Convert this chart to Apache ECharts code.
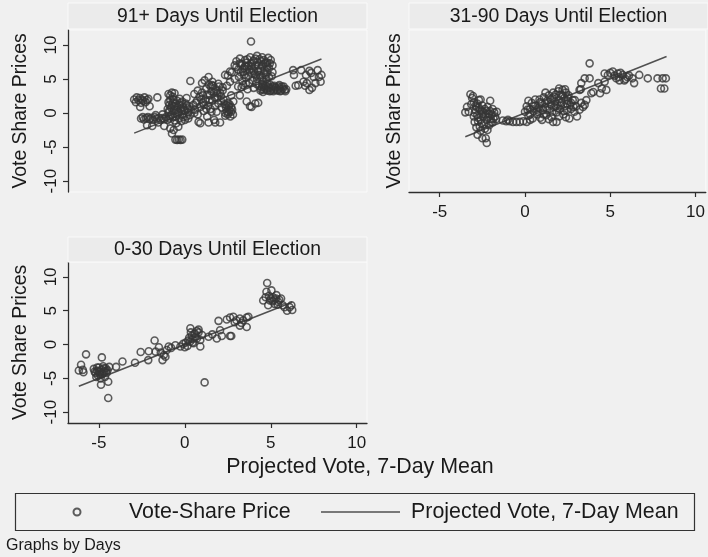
<!DOCTYPE html>
<html>
<head>
<meta charset="utf-8">
<script src="https://cdn.jsdelivr.net/npm/echarts@6/dist/echarts.min.js"></script>
<style>
html,body{margin:0;padding:0;background:#f0f0f0}
#chart{width:708px;height:557px}
</style>
</head>
<body>
<div id="chart"></div>
<script>
// Panel headings (one per "Days" group)
const panelTitles = ['91+ Days Until Election', '31-90 Days Until Election', '0-30 Days Until Election'];
const xTicks = [-5, 0, 5, 10];
const yTicks = [-10, -5, 0, 5, 10];
const xTitle = 'Projected Vote, 7-Day Mean';
const yTitle = 'Vote Share Prices';
const scatterName = 'Vote-Share Price';
const lineName = 'Projected Vote, 7-Day Mean';
const noteText = 'Graphs by Days';

// [projected vote, vote-share price] — 91+ days
const points91 = [
  [-2.95,2.0],[-2.85,1.6],[-2.8,2.3],[-2.7,1.9],[-2.62,2.2],[-2.55,1.5],[-2.5,2.0],[-2.42,1.8],[-2.35,2.3],[-2.28,1.6],[-2.2,1.9],[-2.12,2.1],[-2.6,0.9],[-2.05,1.0],[-1.6,2.3],
  [-2.55,-0.8],[-2.45,-0.6],[-2.38,-0.95],[-2.25,-0.75],[-2.15,-0.6],[-2.05,-0.9],[-1.95,-0.7],[-1.85,-1.0],[-1.75,-0.6],[-1.65,-0.85],[-1.5,-0.7],[-1.4,-1.0],[-1.3,-0.75],[-1.2,-0.9],[-1.1,-0.6],[-1.0,-1.0],[-0.9,-0.8],[-2.2,-1.8],[-1.9,-1.9],[-1.2,-1.9],[-0.85,-2.25],[-0.75,-3.0],[-0.65,-2.5],[-1.55,-1.4],[-1.3,-0.2],[-1.7,-0.3],
  [-0.55,-3.9],[-0.45,-3.95],[-0.35,-3.9],[-0.25,-3.95],[-0.15,-3.9],
  [-0.95,2.8],[-0.85,2.6],[-0.75,3.0],[-0.7,2.4],[-0.6,2.9],[-0.9,1.2],[-0.8,0.8],[-0.7,1.5],[-0.6,1.0],[-0.5,0.5],[-0.45,1.8],[-0.4,0.2],[-0.3,1.2],[-0.25,0.6],[-0.15,-0.2],[-0.1,0.9],[0.0,0.3],[0.05,1.4],[0.1,-0.5],[0.15,0.7],[0.2,0.1],[0.25,1.0],[-0.55,-0.5],[-0.35,-0.8],[-0.2,-1.2],[0.0,-1.0],[-0.5,-1.5],[-0.38,-2.0],[-0.8,-0.3],[0.3,-0.3],[0.35,0.5],[-0.3,2.1],[-0.65,0.3],[-1.0,0.6],[-0.95,0.1],[0.32,4.7],[-0.85,1.9],[-0.15,1.7],[0.1,2.2],[-0.6,-1.1],
  [-0.9,0.4],[-0.75,1.1],[-0.65,2.0],[-0.55,1.4],[-0.45,0.9],[-0.35,0.0],[-0.25,1.5],[-0.05,0.5],[0.1,1.1],[-0.2,0.3],[-0.7,-0.6],[-0.45,-0.2],[-0.95,1.6],[-0.85,-0.5],[0.2,-0.8],[-0.1,-0.6],
  [0.5,1.2],[0.6,0.5],[0.7,1.8],[0.75,-0.2],[0.85,2.4],[0.9,0.9],[1.0,3.0],[1.05,1.5],[1.1,0.3],[1.2,2.0],[1.25,3.6],[1.3,-0.5],[1.35,1.1],[1.4,4.2],[1.45,2.6],[1.5,0.6],[1.55,3.2],[1.6,1.8],[1.65,4.0],[1.7,-1.0],[1.75,2.3],[1.8,3.5],[1.85,0.2],[1.9,2.9],[1.95,1.4],[2.0,3.9],[2.05,-1.4],[2.1,2.5],[2.15,0.8],[2.2,3.3],[1.0,4.4],[1.38,5.3],[1.57,4.1],[0.9,-1.5],[1.38,-1.4],[1.77,-1.4],[0.8,-1.3],[0.55,2.8],[1.15,4.8],[1.6,4.6],[2.2,3.8],[2.25,2.0],[1.3,2.7],[1.7,3.0],[1.9,2.2],[2.05,3.0],
  [0.55,0.0],[0.65,1.5],[0.95,2.0],[1.1,1.2],[1.25,0.6],[1.45,1.9],[1.55,0.2],[1.75,1.0],[1.85,3.2],[2.1,1.8],[1.05,2.6],[0.75,3.3],[1.5,3.9],[1.95,4.3],
  [2.3,1.3],[2.4,0.8],[2.45,0.2],[2.5,-0.2],[2.55,1.0],[2.6,0.4],[2.65,-0.5],[2.7,0.9],[2.35,0.0],[2.75,0.5],[2.8,-0.2],[2.5,1.5],[2.4,1.2],[2.55,0.1],[2.7,0.2],[2.35,-0.4],[2.6,1.3],
  [2.34,5.6],[2.63,4.6],[2.7,2.6],[3.2,2.6],[2.63,6.1],[2.73,6.0],[2.5,5.5],[2.45,4.0],[2.9,5.0],[3.1,3.9],[3.4,4.1],[2.82,1.7],[3.6,1.7],[3.88,0.9],[4.27,1.5],[3.79,1.0],[4.1,1.4],
  [2.9,7.0],[3.0,7.6],[3.1,6.4],[3.2,8.0],[3.3,7.2],[3.4,6.0],[3.5,7.8],[3.6,6.8],[3.7,5.5],[3.8,8.2],[3.9,7.4],[4.0,6.2],[4.1,8.0],[4.2,5.0],[4.3,7.0],[4.4,6.5],[4.5,8.2],[4.6,5.8],[4.7,7.4],[4.8,6.8],[4.9,5.3],[5.0,7.8],[5.1,6.0],[3.15,5.3],[3.35,4.7],[3.55,5.2],[3.75,4.4],[3.95,4.8],[4.15,4.3],[4.35,5.6],[4.55,4.6],[4.75,5.0],[4.95,4.2],[3.45,6.6],[3.85,6.9],[4.25,6.2],[4.65,6.3],[5.05,5.4],[3.65,7.9],[4.45,7.6],[4.85,8.1],[4.2,8.4],[3.85,10.5],[3.3,3.8],[4.0,3.7],[4.6,3.9],[3.65,3.5],[4.9,6.6],[5.1,7.0],[4.55,7.1],[4.05,5.7],[3.75,6.3],[4.7,5.6],[4.3,4.0],[3.55,4.3],
  [3.0,6.8],[3.2,7.3],[3.35,6.4],[3.5,6.9],[3.6,7.4],[3.7,7.0],[3.9,6.5],[4.0,7.7],[4.1,6.9],[4.2,7.5],[4.35,7.9],[4.5,6.9],[4.6,7.8],[4.8,7.4],[4.95,7.3],[4.4,5.3],[4.15,5.5],[3.9,5.9],[4.5,5.2],[4.8,6.0],[3.45,5.6],[3.25,6.0],
  [4.4,3.3],[4.5,3.8],[4.6,3.4],[4.7,4.0],[4.8,3.3],[4.9,3.7],[5.0,3.3],[5.1,3.9],[5.2,3.4],[5.3,3.7],[5.4,3.3],[5.5,3.6],[5.6,3.3],[5.7,3.6],[5.8,3.4],[5.9,3.5],[5.2,4.0],[5.5,4.1],[5.75,3.9],
  [4.45,3.5],[4.55,3.1],[4.65,3.7],[4.75,3.5],[4.85,3.9],[4.95,3.2],[5.05,3.6],[5.15,3.2],[5.25,3.8],[5.35,3.4],[5.45,3.9],[5.55,3.2],[5.65,3.9],[5.85,3.2],[4.5,4.2],[4.8,4.3],
  [6.3,6.3],[6.35,5.6],[6.77,6.3],[7.25,6.2],[7.73,6.3],[7.05,5.6],[7.5,5.3],[7.8,5.3],[6.6,4.1],[6.9,4.6],[7.1,4.4],[7.25,3.4],[7.6,4.4],[7.9,4.6],[7.35,5.9],[7.0,4.0],[7.4,3.7],[7.95,5.6],[6.45,4.0]
];

// 31-90 days
const points31 = [
  [-3.5,0.1],[-3.2,2.75],[-3.1,2.2],[-3.0,1.6],[-3.3,0.2],[-3.4,0.9],[-2.8,1.4],[-2.04,1.8],[-2.78,-3.2],[-2.5,-3.7],[-2.24,-4.4],[-2.3,-3.7],[-1.65,0.2],[-1.85,-0.8],[-2.9,0.5],[-2.8,-0.3],[-2.7,0.8],[-2.6,-1.0],[-2.55,0.3],[-2.5,1.1],[-2.45,-0.5],[-2.4,-1.6],[-2.35,0.6],[-2.3,-0.2],[-2.25,-1.0],[-2.2,0.9],[-2.15,-0.6],[-2.1,-1.8],[-2.05,0.3],[-2.0,-0.9],[-1.95,-0.2],[-1.9,-1.4],[-1.8,0.1],[-1.75,-0.5],[-3.0,-0.5],[-2.95,-1.3],[-2.65,-2.0],[-2.6,-2.6],[-2.85,-2.1],[-2.2,-2.5],[-1.7,-0.9],[-3.05,2.5],[-2.7,1.9],[-2.6,2.0],[-2.9,1.1],
  [-2.95,0.0],[-2.75,-1.2],[-2.55,-1.5],[-2.45,0.2],[-2.35,-2.3],[-2.25,0.3],[-2.12,-0.1],[-2.0,-1.3],[-1.9,0.6],[-2.65,0.5],[-2.85,0.9],[-3.15,1.3],[-2.75,-0.7],[-2.5,-0.2],
  [-1.3,-1.1],[-1.1,-1.2],[-0.9,-1.2],[-0.7,-1.3],[-0.5,-1.3],[-0.3,-1.3],[-0.1,-1.2],[0.1,-1.3],[0.3,-1.0],[-1.0,-1.0],
  [0.0,0.2],[0.1,1.0],[0.2,-0.4],[0.3,0.6],[0.4,1.5],[0.45,-0.8],[0.5,0.3],[0.6,1.1],[0.7,-0.2],[0.8,0.8],[0.85,2.0],[0.9,-0.7],[1.0,1.4],[1.05,0.4],[1.1,2.3],[1.2,0.9],[1.25,-0.3],[1.3,1.8],[1.4,2.6],[1.45,0.6],[1.5,1.3],[1.55,-0.6],[1.6,2.2],[1.65,3.0],[1.7,0.9],[1.75,1.7],[1.8,2.7],[1.85,0.1],[1.9,1.3],[1.95,3.2],[2.0,2.0],[2.05,0.6],[2.1,2.7],[2.15,1.5],[2.2,3.4],[2.25,-0.2],[2.3,2.2],[2.35,1.0],[2.4,3.0],[2.45,0.4],[2.5,1.8],[2.55,2.6],[2.6,-0.8],[2.65,1.2],[2.7,0.6],[2.8,1.9],[2.9,0.2],[1.0,-1.0],[1.65,-1.3],[1.85,-1.3],[0.2,1.8],[0.6,2.0],[1.2,3.0],[2.0,3.6],[2.35,3.5],[3.05,-0.5],
  [0.3,-0.2],[0.5,1.0],[0.7,0.5],[0.9,1.6],[1.1,-0.2],[1.3,0.4],[1.5,2.0],[1.7,2.4],[1.9,0.7],[2.1,1.1],[2.3,0.3],[2.5,2.3],[2.7,1.5],[1.4,-0.9],[2.0,-0.5],[2.4,-0.6],[0.8,0.1],[1.2,1.5],[1.6,0.2],[1.8,1.0],[2.2,2.6],[2.45,1.4],[2.85,0.9],[0.15,0.5],
  [2.92,1.9],[3.3,1.5],[3.5,1.2],[3.2,0.5],[3.0,1.0],[3.4,0.9],[3.6,1.9],[3.27,3.5],[3.2,3.4],[3.3,4.4],[3.5,5.1],[3.79,5.1],[3.79,7.3],[3.89,2.9],[4.0,3.1],[4.4,2.9],[4.5,3.6],[4.77,3.4],[4.3,4.4],[4.67,4.6],[4.86,5.6],[4.67,5.8],[5.15,6.1],[5.44,5.8],[5.73,5.6],[6.0,5.3],[6.3,5.1],[6.4,4.4],[6.7,5.6],[7.2,5.1],[7.77,5.1],[8.07,5.1],[8.26,5.1],[7.97,3.6],[8.17,3.6],[5.35,5.1],[5.83,4.8],[5.54,4.8],[5.0,5.9],[5.25,5.5],[5.6,5.9],[5.9,5.0],[6.1,5.5],[5.5,5.3]
];

// 0-30 days
const points0 = [
  [-6.17,-3.85],[-6.04,-3.0],[-5.94,-3.75],[-5.9,-4.1],[-5.75,-1.45],[-4.83,-1.9],[-5.3,-3.6],[-5.2,-4.2],[-5.1,-3.9],[-5.05,-4.6],[-5.0,-3.4],[-4.95,-4.3],[-4.9,-5.0],[-4.85,-3.7],[-4.8,-4.4],[-4.75,-3.2],[-4.7,-4.0],[-4.65,-4.8],[-4.6,-3.5],[-4.55,-4.2],[-4.5,-3.8],[-5.15,-4.8],[-5.25,-4.0],[-4.88,-5.95],[-4.46,-5.5],[-4.46,-7.9],[-4.4,-3.3],[-4.0,-3.3],[-3.63,-2.5],[-2.9,-2.7],[-2.57,-1.1],[-2.13,-2.3],[-2.1,-1.0],[-1.76,0.6],[-1.7,-1.05],[-1.51,-0.4],[-1.3,-2.3],[-1.22,-1.55],[-1.13,-1.8],[-1.4,-1.2],[-1.05,-0.8],[-0.94,-0.3],[-0.8,-0.5],[-0.55,-0.1],[-0.26,-0.3],[-0.1,0.1],[0.0,-0.4],[0.05,0.3],[0.15,-0.2],[0.2,0.6],[0.25,1.0],[0.3,0.4],[0.32,2.4],[0.4,1.3],[0.45,0.8],[0.5,0.2],[0.55,1.6],[0.6,1.1],[0.7,2.0],[0.8,1.8],[0.8,2.2],[0.9,0.66],[0.9,-0.3],[1.0,1.4],[1.15,-5.6],[1.38,1.15],[1.6,1.5],[1.86,0.9],[1.96,3.5],[2.05,2.1],[2.15,1.25],[2.63,1.25],[2.7,1.25],[2.44,3.7],[2.63,4.0],[2.82,4.1],[3.0,3.6],[3.2,3.85],[3.4,3.6],[3.6,4.0],[3.2,2.8],[3.6,2.6],[3.7,4.1],[3.3,3.2],[2.9,3.3],
  [-5.0,-4.0],[-4.9,-4.5],[-4.75,-4.2],[-4.6,-3.9],[-5.1,-3.4],[-4.7,-3.5],[0.35,1.8],[0.6,1.6],[0.45,0.3],[0.7,0.9],
  [4.56,6.5],[4.79,9.1],[4.75,7.8],[5.04,8.0],[5.13,7.0],[5.33,7.3],[5.43,6.3],[5.6,6.8],[5.7,5.8],[4.85,5.8],[4.95,6.5],[5.23,6.0],[4.9,7.2],[5.0,6.8],[5.2,6.6],[5.1,6.4],[5.3,6.8],[5.5,6.6],[4.7,7.0],[5.4,5.9],
  [5.95,5.0],[6.2,5.8],[6.25,5.1],[6.1,5.5],[5.8,5.5]
];

// Projected vote plotted against itself, over each group's range
const projected91 = [[-2.95,-2.95],[7.95,7.95]];
const projected31 = [[-3.5,-3.5],[8.3,8.3]];
const projected0 = [[-6.17,-6.17],[6.25,6.25]];

const FONT = 'Liberation Sans, Arial, sans-serif';
const INK = '#2e2e2e';
const BG = '#f0f0f0';

const grids = [
  { left: 68, top: 30, width: 299, height: 162 },
  { left: 409, top: 30, width: 299, height: 162 },
  { left: 68, top: 262, width: 299, height: 161 }
];

const X_MIN = -6.8, X_MAX = 10.6, Y_MIN = -11.6, Y_MAX = 12.2;

function xAxisFor(i, visible) {
  return {
    gridIndex: i, type: 'value', min: X_MIN, max: X_MAX,
    splitLine: { show: false },
    axisLine: { show: visible, onZero: false, lineStyle: { color: INK, width: 1.3 } },
    axisTick: { show: visible, customValues: xTicks, length: 5, inside: false, lineStyle: { color: INK, width: 1.2 } },
    axisLabel: { show: visible, customValues: xTicks, margin: 12, color: '#1a1a1a', fontFamily: FONT, fontSize: 17 }
  };
}
function yAxisFor(i, visible, gap) {
  return {
    gridIndex: i, type: 'value', min: Y_MIN, max: Y_MAX,
    name: yTitle, nameLocation: 'middle', nameRotate: 90, nameGap: gap,
    nameTextStyle: { color: '#1a1a1a', fontFamily: FONT, fontSize: 19.4 },
    splitLine: { show: false },
    axisLine: { show: visible, onZero: false, lineStyle: { color: INK, width: 1.3 } },
    axisTick: { show: visible, customValues: yTicks, length: 5, lineStyle: { color: INK, width: 1.2 } },
    axisLabel: { show: visible, customValues: yTicks, rotate: 90, margin: 8, color: '#1a1a1a', fontFamily: FONT, fontSize: 17 }
  };
}

const scatterStyle = { color: 'rgba(0,0,0,0)', borderColor: '#363636', borderWidth: 1.6 };
function scatterSeries(i, data) {
  return { name: scatterName, type: 'scatter', xAxisIndex: i, yAxisIndex: i, data: data,
    symbol: 'circle', symbolSize: 7, itemStyle: scatterStyle, silent: true, z: 3 };
}
function lineSeries(i, data) {
  return { name: lineName, type: 'line', xAxisIndex: i, yAxisIndex: i, data: data,
    symbol: 'none', lineStyle: { color: '#505050', width: 1.6 }, itemStyle: { color: '#505050' }, silent: true, z: 2 };
}

// heading strips above each panel
const strips = [
  { x: 68, y: 3, w: 299, h: 26, cx: 217.5, cy: 16.5 },
  { x: 409, y: 3, w: 299, h: 26, cx: 558.5, cy: 16.5 },
  { x: 68, y: 237, w: 299, h: 25, cx: 217.5, cy: 250 }
];
const graphics = [];
strips.forEach((s, i) => {
  graphics.push({ type: 'rect', shape: { x: s.x, y: s.y, width: s.w, height: s.h },
    style: { fill: '#ebebeb', stroke: '#fafafa', lineWidth: 1 }, silent: true, z: 1 });
  graphics.push({ type: 'text', x: s.cx, y: s.cy, silent: true, z: 2,
    style: { text: panelTitles[i], align: 'center', verticalAlign: 'middle', fill: '#1a1a1a', font: '19.4px ' + FONT } });
});
// shared x title
graphics.push({ type: 'text', x: 360, y: 467, silent: true,
  style: { text: xTitle, align: 'center', verticalAlign: 'middle', fill: '#1a1a1a', font: '21.4px ' + FONT } });
// legend frame
graphics.push({ type: 'rect', shape: { x: 15.5, y: 493.5, width: 679, height: 37 },
  style: { fill: 'none', stroke: '#333', lineWidth: 1.2 }, silent: true });
// footnote
graphics.push({ type: 'text', x: 6, y: 546, silent: true,
  style: { text: noteText, align: 'left', verticalAlign: 'middle', fill: '#1a1a1a', font: '16px ' + FONT } });

const legendText = { color: '#1a1a1a', fontFamily: FONT, fontSize: 21.4, lineHeight: 24 };
const chart = echarts.init(document.getElementById('chart'), null, { renderer: 'canvas' });
chart.setOption({
  backgroundColor: BG,
  animation: false,
  grid: grids.map(g => Object.assign({ show: true, backgroundColor: BG, borderColor: '#fafafa', borderWidth: 1 }, g)),
  xAxis: [xAxisFor(0, false), xAxisFor(1, true), xAxisFor(2, true)],
  yAxis: [yAxisFor(0, true, 38), yAxisFor(1, false, 5), yAxisFor(2, true, 38)],
  legend: [
    { data: [scatterName], left: 72.5, top: 500, padding: 0, itemWidth: 94, itemHeight: 7,
      selectedMode: false, textStyle: legendText },
    { data: [{ name: lineName, icon: 'rect', itemStyle: { color: '#505050' } }], left: 321, top: 500, padding: 0, itemWidth: 79, itemHeight: 1.6,
      selectedMode: false, textStyle: Object.assign({ padding: [0, 0, 0, 6] }, legendText) }
  ],
  graphic: graphics,
  series: [
    scatterSeries(0, points91), lineSeries(0, projected91),
    scatterSeries(1, points31), lineSeries(1, projected31),
    scatterSeries(2, points0), lineSeries(2, projected0)
  ]
});
</script>
</body>
</html>
